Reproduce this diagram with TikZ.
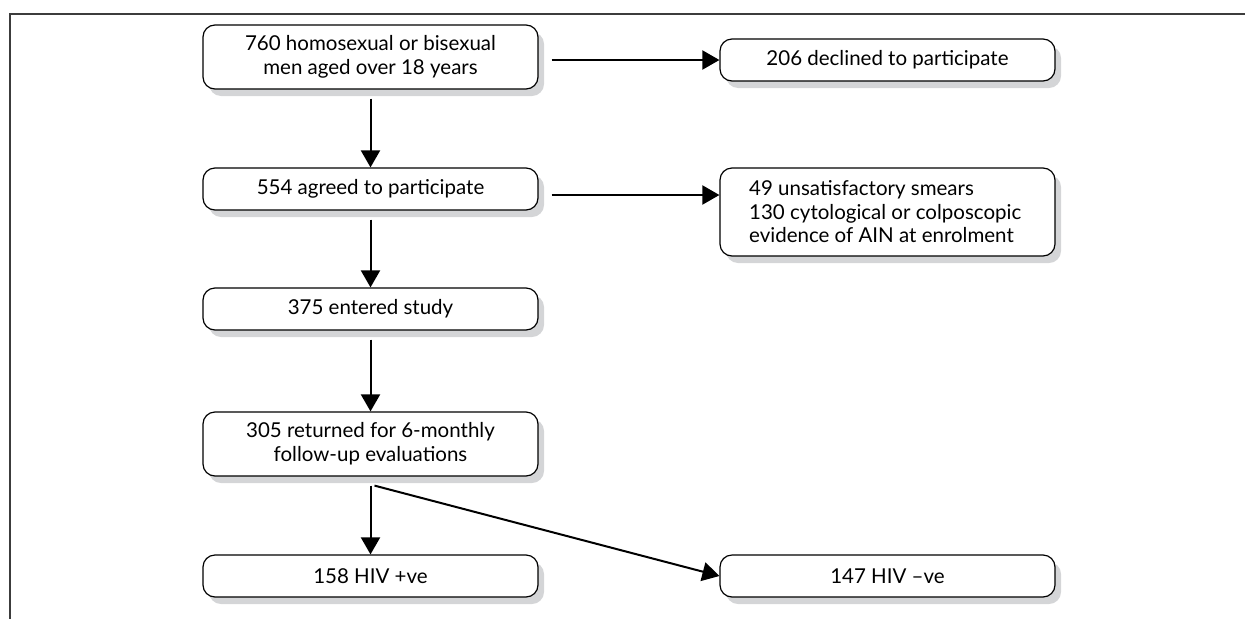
\documentclass[tikz,border=0pt]{standalone}
\usepackage{fontspec}
\setmainfont{Lato}
\usetikzlibrary{arrows.meta,calc,shadows}
\definecolor{shgray}{RGB}{212,213,215}
\definecolor{framec}{RGB}{60,60,60}
\begin{document}
\begin{tikzpicture}[x=1pt,y=-1pt,
  flowbox/.style={draw, rounded corners=12pt, minimum width=335pt, line width=1.2pt,
    fill=white, inner sep=0pt, align=center,
    font=\fontsize{20.5pt}{24pt}\selectfont,
    drop shadow={shadow xshift=6pt, shadow yshift=-7pt, opacity=1, fill=shgray}},
  boxtext/.style={inner sep=0pt, align=left, font=\fontsize{20.5pt}{23.5pt}\selectfont},
  arr/.style={-{Triangle[length=17pt,width=19pt]}, line width=2pt}]
\useasboundingbox (0,0) rectangle (1245,619);
\draw[framec, line width=1.8pt] (1245,14) -- (10,14) -- (10,619);

\node[flowbox, minimum height=64pt] (b1) at (370.5,57) {760 homosexual or bisexual\\men aged over 18 years};
\node[flowbox, minimum height=42pt] (b2) at (370.5,189) {554 agreed to participate};
\node[flowbox, minimum height=42pt] (b3) at (370.5,309) {375 entered study};
\node[flowbox, minimum height=64pt] (b4) at (370.5,444) {305 returned for 6-monthly\\follow-up evaluations};
\node[flowbox, minimum height=42pt] (b5) at (370.5,576) {158 HIV +ve};

\node[flowbox, minimum height=42pt] (r1) at (887.5,60) {206 declined to participate};
\node[flowbox, minimum height=88pt] (r2) at (887.5,212) {};
\node[boxtext, anchor=west] (r2t) at (749,212) {49 unsatisfactory smears\\130 cytological or colposcopic\\evidence of AIN at enrolment};
\node[flowbox, minimum height=42pt] (r3) at (887.5,576) {147 HIV –ve};

\draw[arr] ($(b1.south)+(0,9)$) -- (b2.north);
\draw[arr] ($(b2.south)+(0,9)$) -- (b3.north);
\draw[arr] ($(b3.south)+(0,9)$) -- (b4.north);
\draw[arr] ($(b4.south)+(0,9)$) -- (b5.north);
\draw[arr] ($(b1.east |- r1.west)+(13,0)$) -- (r1.west);
\draw[arr] ($(b2.east |- r2.west)+(13,-17)$) -- ($(r2.west)+(0,-17)$);
\draw[arr] ($(b4.south)+(4,9)$) -- (r3.west);
\end{tikzpicture}
\end{document}
